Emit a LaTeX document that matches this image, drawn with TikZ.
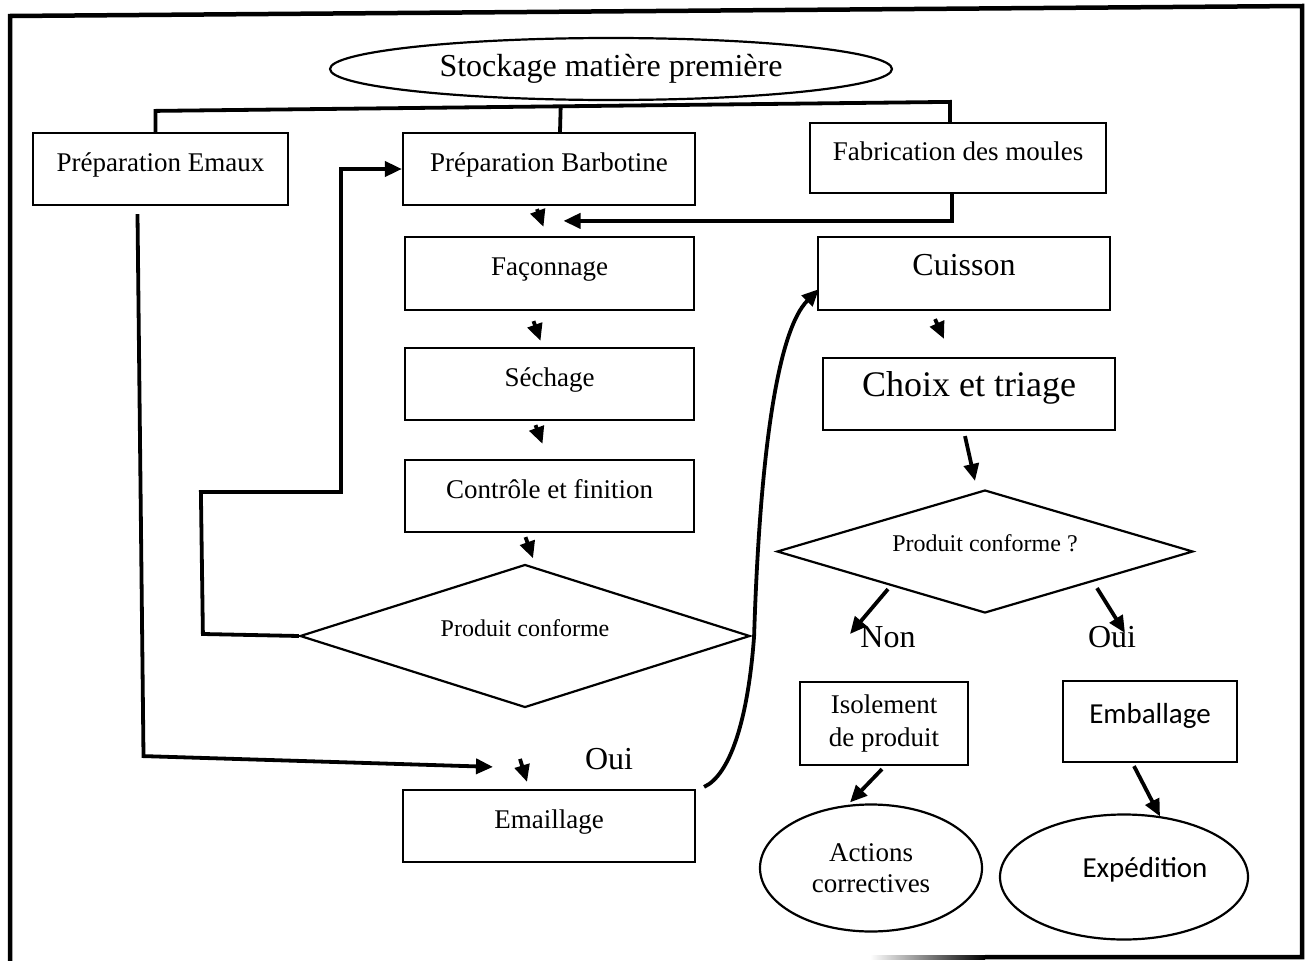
\documentclass[tikz,border=0pt]{standalone}
\usepackage{fontspec}
\setmainfont{Liberation Serif}
\newfontfamily\calibri{Carlito}
\usetikzlibrary{arrows.meta,shapes.geometric,calc}

\tikzset{
  box/.style={draw, line width=2.2pt, inner sep=0pt, text height=20pt, text depth=16pt,
    font=\fontsize{27}{32}\selectfont},
  twoline/.style={draw, line width=2.2pt, inner sep=0pt, align=center,
    font=\fontsize{27}{33}\selectfont},
  oval/.style={ellipse, draw, line width=2.2pt, inner sep=0pt, align=center,
    font=\fontsize{27}{31}\selectfont},
  choice/.style={diamond, draw, line width=2.2pt, inner sep=0pt, text height=16pt, text depth=16pt,
    aspect=3.4, font=\fontsize{24}{28}\selectfont},
  lbl/.style={inner sep=0pt, font=\fontsize{32}{36}\selectfont},
  link/.style={line width=3.8pt},
  frame/.style={line width=4.5pt}
}

\begin{document}
\begin{tikzpicture}[x=1pt, y=-1pt, >={Triangle[length=17pt,width=15pt]}]
  \useasboundingbox (0,0) rectangle (1310,961);

  % cadre
  \draw[frame] (10,961) -- (10,16) -- (1302,6) -- (1302,957) -- (985,957);
  \shade[left color=white, right color=black] (870,955) rectangle (985,959.5);

  % etapes
  \node[oval, minimum width=562pt, minimum height=62pt, font=\fontsize{32}{36}\selectfont] (stock) at (611,69) {Stockage matière première};
  \node[box, minimum width=255pt, minimum height=72pt] (emaux) at (160.5,169) {Préparation Emaux};
  \node[box, minimum width=292pt, minimum height=72pt] (barbo) at (549,169) {Préparation Barbotine};
  \node[box, minimum width=296pt, minimum height=70pt] (moules) at (958,158) {Fabrication des moules};
  \node[box, minimum width=289pt, minimum height=73pt] (fac) at (549.5,273.5) {Façonnage};
  \node[box, minimum width=289pt, minimum height=72pt] (sech) at (549.5,384) {Séchage};
  \node[box, minimum width=289pt, minimum height=72pt] (ctrl) at (549.5,496) {Contrôle et finition};
  \node[choice, minimum width=450pt, minimum height=143pt] (d1) at (525,636) {Produit conforme};
  \node[box, minimum width=292pt, minimum height=72pt] (email) at (549,826) {Emaillage};
  \node[lbl] (ouiA) at (609,759) {Oui};

  \node[box, minimum width=292pt, minimum height=73pt, font=\fontsize{32}{36}\selectfont] (cuisson) at (964,273.5) {Cuisson};
  \node[box, minimum width=292pt, minimum height=72pt, font=\fontsize{36}{40}\selectfont] (choix) at (969,394) {Choix et triage};
  \node[choice, minimum width=416pt, minimum height=123pt] (d2) at (985,551.5) {Produit conforme ?};
  \node[lbl] (non) at (888,637) {Non};
  \node[lbl] (oui) at (1112,637) {Oui};

  \node[twoline, minimum width=168pt, minimum height=83pt] (iso) at (884,723.5) {Isolement\\de produit};
  \node[box, minimum width=174pt, minimum height=81pt, font=\calibri\fontsize{29}{34}\selectfont] (emb) at (1150,721.5) {Emballage};
  \node[oval, minimum width=222pt, minimum height=127pt] (act) at (871,868) {Actions\\correctives};
  \node[oval, minimum width=248pt, minimum height=125pt, text height=20pt, text depth=20pt,
    font=\calibri\fontsize{29}{34}\selectfont] (exp) at (1124,877) {\hspace*{42pt}Expédition};

  % accolade du haut
  \coordinate (brl) at ([shift={(-5,-21)}]emaux.north);
  \coordinate (brr) at ([shift={(-8,-20)}]moules.north);
  \draw[link] ([xshift=-5]emaux.north) -- (brl) -- (brr) -- ([xshift=-8]moules.north);
  \draw[link] ($(brl)!0.51!(brr)$) -- ([xshift=11]barbo.north);

  % colonne du milieu
  \draw[link,->] ([xshift=-6]moules.south) |- ([shift={(14,-15)}]fac.north);
  \draw[link,->] ([shift={(-12,3)}]barbo.south) -- ([shift={(-6,-9)}]fac.north);
  \draw[link,->] ([shift={(-16,10)}]fac.south) -- ([shift={(-9,-6)}]sech.north);
  \draw[link,->] ([shift={(-14,4)}]sech.south) -- ([shift={(-7,-15)}]ctrl.north);
  \draw[link,->] ([shift={(-24,4)}]ctrl.south) -- ([shift={(8,-5)}]d1.north);
  \draw[link,->] (d1.west) -- ++(-96,-2) -- ++(-2,-142) -- ++(140,0) |- (barbo.west);
  \draw[link,->] ([shift={(-23,8)}]emaux.south) -- ++(6,542) -- ([shift={(-56,-22)}]email.north);
  \draw[link,->] ([shift={(-29,-30)}]email.north) -- ([shift={(-22,-7)}]email.north);
  \draw[link,->] ([shift={(8,-2)}]email.north east) .. controls (730,775) and (748,720) ..
    ([xshift=3]d1.east) .. controls (760,450) and (778,330) .. ([shift={(2,-22)}]cuisson.south west);

  % colonne de droite
  \draw[link,->] ([shift={(-29,8)}]cuisson.south) -- ([shift={(-25,-18)}]choix.north);
  \draw[link,->] ([shift={(-4,5)}]choix.south) -- ([shift={(-10,-8)}]d2.north);
  \draw[link,->] ([shift={(-97,-25)}]d2.south) -- ([shift={(-38,-3)}]non.center);
  \draw[link,->] ([shift={(112,-26)}]d2.south) -- ([shift={(13,-4)}]oui.center);
  \draw[link,->] ([shift={(-2,3)}]iso.south) -- ([shift={(-21,-1)}]act.north);
  \draw[link,->] ([shift={(-16,3)}]emb.south) -- ([shift={(36,3)}]exp.north);
\end{tikzpicture}
\end{document}
